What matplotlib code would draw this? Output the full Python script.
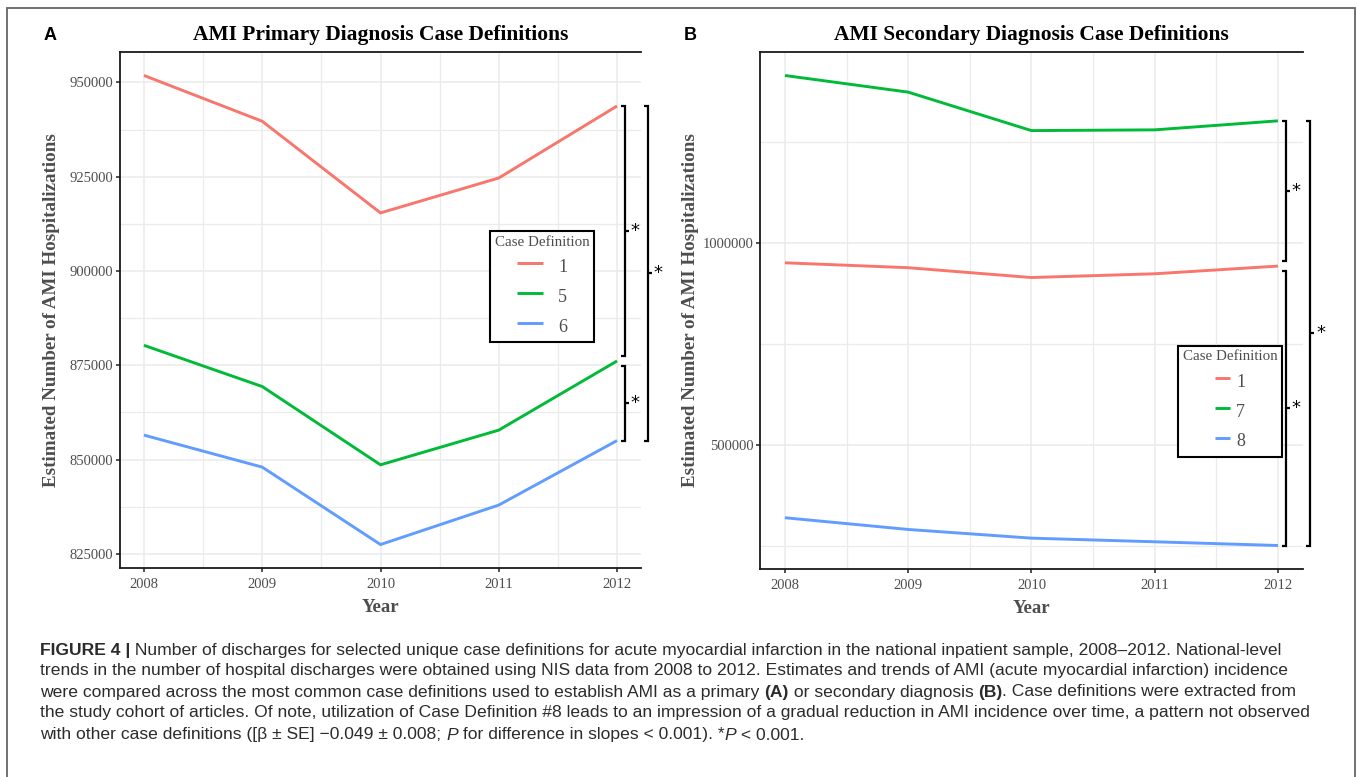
import matplotlib
matplotlib.use("Agg")
import matplotlib.pyplot as plt
from matplotlib.patches import Rectangle
from matplotlib.ticker import MultipleLocator, StrMethodFormatter

plt.rcParams['font.family'] = ['Liberation Serif', 'DejaVu Serif']

# data
years = [2008, 2009, 2010, 2011, 2012]

primary_labels = ['1', '5', '6']
def1 = [951850, 939700, 915400, 924660, 943750]
def5 = [880290, 869360, 848600, 857800, 876140]
def6 = [856480, 847990, 827460, 837930, 855030]

secondary_labels = ['1', '7', '8']
def7 = [1415470, 1374300, 1279100, 1280900, 1303200]
def8 = [320800, 291800, 270300, 261300, 252100]

colors = ['#F8766D', '#00BA38', '#619CFF']
GRID = '#EBEBEB'
TXT = '#4D4D4D'


def bracket(ax, y_top, y_bot, x, cap=0.035):
    kw = dict(color='black', lw=1.6, clip_on=False, zorder=5,
              solid_capstyle='butt', solid_joinstyle='miter')
    ax.plot([x - cap, x, x, x - cap], [y_top, y_top, y_bot, y_bot], **kw)
    ym = (y_top + y_bot) / 2
    ax.plot([x, x + cap], [ym, ym], **kw)
    ax.text(x + 0.085, ym, '*', ha='center', va='center', fontsize=13,
            family='DejaVu Sans', clip_on=False)


def panel(ax, series, labels, title, major, minor, legend_anchor, handlelength, textpad):
    for vals, lab, c in zip(series, labels, colors):
        ax.plot(years, vals, color=c, lw=2.1, label=lab, solid_capstyle='butt')
    span = years[-1] - years[0]
    ax.set_xlim(years[0] - 0.05 * span, years[-1] + 0.05 * span)
    lo = min(min(v) for v in series)
    hi = max(max(v) for v in series)
    ax.set_ylim(lo - 0.05 * (hi - lo), hi + 0.05 * (hi - lo))

    ax.xaxis.set_major_locator(MultipleLocator(1))
    ax.xaxis.set_minor_locator(MultipleLocator(0.5))
    ax.yaxis.set_major_locator(MultipleLocator(major))
    ax.yaxis.set_minor_locator(MultipleLocator(minor))
    ax.yaxis.set_major_formatter(StrMethodFormatter('{x:.0f}'))
    ax.grid(which='major', color=GRID, lw=1.1)
    ax.grid(which='minor', color=GRID, lw=0.9)
    ax.set_axisbelow(True)
    ax.tick_params(which='minor', length=0)
    ax.tick_params(which='major', length=3, width=1.2, color='#333333',
                   labelsize=10.5, labelcolor=TXT, pad=2)
    ax.tick_params(axis='x', which='major', pad=4.5)
    for s in ['left', 'bottom', 'top']:
        ax.spines[s].set_linewidth(1.3)
        ax.spines[s].set_color('#1a1a1a')
    ax.spines['right'].set_visible(False)

    ax.set_title(title, fontsize=15.5, fontweight='bold', pad=8.5)
    ax.set_xlabel('Year', fontsize=13.5, fontweight='bold', color=TXT)
    ax.set_ylabel('Estimated Number of AMI Hospitalizations', fontsize=13.7,
                  fontweight='bold', color=TXT)

    leg = ax.legend(title='Case Definition', loc='upper left',
                    bbox_to_anchor=legend_anchor, borderaxespad=0,
                    fancybox=False, edgecolor='black', fontsize=13,
                    title_fontsize=10.8, handlelength=handlelength,
                    handleheight=1.65, handletextpad=textpad,
                    labelspacing=0.33, borderpad=0.25, framealpha=1)
    leg.get_frame().set_linewidth(1.5)
    leg.get_title().set_color(TXT)
    for t in leg.get_texts():
        t.set_color(TXT)

    # significance brackets between the 2012 values, top to bottom
    last = sorted((v[-1] for v in series), reverse=True)
    gap = 0.01 * (hi - lo)
    x_in = years[-1] + 0.065
    x_out = years[-1] + 0.26
    bracket(ax, last[0], last[1] + gap, x_in)
    bracket(ax, last[1] - gap, last[2], x_in)
    bracket(ax, last[0], last[2], x_out)


fig = plt.figure(figsize=(13.57, 7.77), dpi=100)
W, H = 1357, 777

axA = fig.add_axes([120.3 / W, 1 - 568 / H, 520.4 / W, 516 / H])
axB = fig.add_axes([760.3 / W, 1 - 569 / H, 542.3 / W, 517 / H])

panel(axA, [def1, def5, def6], primary_labels,
      'AMI Primary Diagnosis Case Definitions', 25000, 12500,
      (0.711, 0.653), 1.4, 0.85)
panel(axB, [def1, def7, def8], secondary_labels,
      'AMI Secondary Diagnosis Case Definitions', 500000, 250000,
      (0.771, 0.432), 0.8, 0.35)

axA.yaxis.set_label_coords(-0.116, 0.5)
axB.yaxis.set_label_coords(-0.113, 0.5)
axA.xaxis.set_label_coords(0.5, -0.06)
axB.xaxis.set_label_coords(0.5, -0.06)

fig.text(50 / W, 1 - 35 / H, 'A', fontsize=13, fontweight='bold',
         family='Liberation Sans', ha='center', va='center')
fig.text(690 / W, 1 - 35 / H, 'B', fontsize=13, fontweight='bold',
         family='Liberation Sans', ha='center', va='center')

# outer frame
fig.patches.append(Rectangle((7 / W, -0.05), (1355 - 7) / W, 1 - 8 / H + 0.05,
                             transform=fig.transFigure, fill=False,
                             edgecolor='#666666', lw=1.3))

# caption
N, B, I = {}, {'fontweight': 'bold'}, {'style': 'italic'}
caption = [
    [('FIGURE 4 |', B), (' Number of discharges for selected unique case definitions for acute '
                         'myocardial infarction in the national inpatient sample, 2008\u20132012. '
                         'National-level', N)],
    [('trends in the number of hospital discharges were obtained using NIS data from 2008 to '
      '2012. Estimates and trends of AMI (acute myocardial infarction) incidence', N)],
    [('were compared across the most common case definitions used to establish AMI as a primary ', N),
     ('(A)', B), (' or secondary diagnosis ', N), ('(B)', B),
     ('. Case definitions were extracted from', N)],
    [('the study cohort of articles. Of note, utilization of Case Definition #8 leads to an '
      'impression of a gradual reduction in AMI incidence over time, a pattern not observed', N)],
    [('with other case definitions ([\u03b2 \u00b1 SE] \u22120.049 \u00b1 0.008; ', N), ('P', I),
     (' for difference in slopes < 0.001). *', N), ('P', I), (' < 0.001.', N)],
]
renderer = fig.canvas.get_renderer()
line_y = [650, 671, 692, 713, 735]
for parts, yy in zip(caption, line_y):
    x = 40 / W
    for s, st in parts:
        t = fig.text(x, 1 - yy / H, s, fontsize=12.6, family='Liberation Sans',
                     color='#2b2b2b', va='center', ha='left', **st)
        x += t.get_window_extent(renderer).width / W

fig.savefig('out.png', dpi=100)
